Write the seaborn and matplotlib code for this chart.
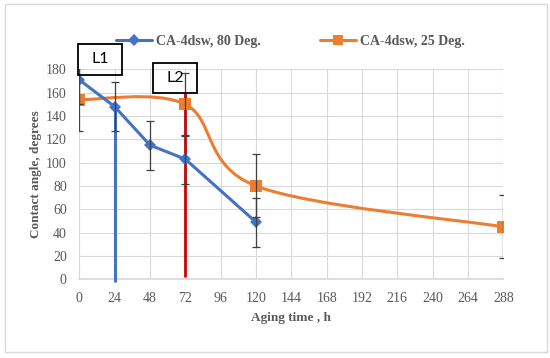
import matplotlib
matplotlib.use("Agg")
import matplotlib.pyplot as plt
import seaborn as sns
import numpy as np
import pandas as pd
from matplotlib.path import Path
from matplotlib.patches import PathPatch, Rectangle
from matplotlib.lines import Line2D

# ---- data ----
hours_80 = [0, 24, 48, 72, 120]
angle_80 = [171, 148, 115, 103, 49]
err_80 = [21, 21, 21, 21, 21]

hours_25 = [0, 72, 120, 288]
angle_25 = [154, 150, 80, 45]
err_25 = [27, 27, 27, 27]

x_ticks = [0, 24, 48, 72, 96, 120, 144, 168, 192, 216, 240, 264, 288]
y_ticks = [0, 20, 40, 60, 80, 100, 120, 140, 160, 180]

label_80 = "CA-4dsw, 80 Deg."
label_25 = "CA-4dsw, 25 Deg."
markers_vlines = {"L1": (24, -2, 148), "L2": (72, 2, 160)}

BLUE = "#4472C4"
ORANGE = "#ED7D31"
RED = "#D00000"
GREY = "#595959"

sns.set_theme(style="white")
plt.rcParams['font.family'] = ['Liberation Serif', 'DejaVu Serif']

fig = plt.figure(figsize=(5.5, 3.58), dpi=100)
ax = fig.add_axes([0.1442, 0.2198, 0.7709, 0.5866])

df80 = pd.DataFrame({"h": hours_80, "a": angle_80})
df25 = pd.DataFrame({"h": hours_25, "a": angle_25})

# blue series (straight lines)
sns.lineplot(data=df80, x="h", y="a", ax=ax, color=BLUE, lw=2.2,
             marker="D", markersize=6.5, markeredgewidth=0, zorder=4)

# orange series: smoothed curve (Catmull-Rom style Bezier like Excel)
P = np.column_stack([hours_25, angle_25]).astype(float)
verts = [tuple(P[0])]
codes = [Path.MOVETO]
n = len(P)
for i in range(n - 1):
    p0 = P[i - 1] if i > 0 else P[i]
    p1 = P[i]
    p2 = P[i + 1]
    p3 = P[i + 2] if i + 2 < n else P[i + 1]
    c1 = p1 + (p2 - p0) / 6.0
    c2 = p2 - (p3 - p1) / 6.0
    verts += [tuple(c1), tuple(c2), tuple(p2)]
    codes += [Path.CURVE4] * 3
ax.add_patch(PathPatch(Path(verts, codes), fill=False, edgecolor=ORANGE,
                       lw=2.2, zorder=3, capstyle="round"))
sns.scatterplot(data=df25, x="h", y="a", ax=ax, color=ORANGE, marker="s",
                s=75, linewidth=0, zorder=5)

# vertical marker lines
xv, y0, y1 = markers_vlines["L1"]
ax.vlines(xv, y0, y1, color=BLUE, lw=2.2, zorder=3, clip_on=False)
xv, y0, y1 = markers_vlines["L2"]
ax.vlines(xv, y0, y1, color=RED, lw=2.0, zorder=3)

# error bars
ax.errorbar(hours_80, angle_80, yerr=err_80, fmt="none", ecolor="#404040",
            elinewidth=0.9, capsize=3, capthick=0.9, zorder=6)
ax.errorbar(hours_25, angle_25, yerr=err_25, fmt="none", ecolor="#404040",
            elinewidth=0.9, capsize=3, capthick=0.9, zorder=6)

ax.set_xlim(0, 288)
ax.set_ylim(0, 180)
ax.set_xticks(x_ticks)
ax.set_yticks(y_ticks)
ax.grid(True, color="#D9D9D9", lw=0.8)
ax.set_axisbelow(True)
for s in ["top", "right", "left"]:
    ax.spines[s].set_visible(False)
ax.spines["bottom"].set_color("#D9D9D9")
ax.tick_params(axis="both", length=0, labelsize=10, labelcolor=GREY)
ax.tick_params(axis="x", pad=9)
ax.tick_params(axis="y", pad=9)
ax.set_xlabel("Aging time , h", fontsize=9.5, fontweight="bold", color=GREY, labelpad=5)
ax.set_ylabel("Contact angle, degrees", fontsize=9.5, fontweight="bold", color=GREY, labelpad=3)

handles = [Line2D([], [], color=BLUE, lw=2.2, marker="D", markersize=6, markeredgewidth=0),
           Line2D([], [], color=ORANGE, lw=2.2, marker="s", markersize=6.5, markeredgewidth=0)]
leg = fig.legend(handles, [label_80, label_25], loc="center", bbox_to_anchor=(0.528, 0.884),
                 ncol=2, frameon=False, handlelength=2.6, columnspacing=4.2,
                 prop={"family": "Liberation Serif", "weight": "bold", "size": 10},
                 handletextpad=0.3)
for t in leg.get_texts():
    t.set_color(GREY)

# L1 / L2 boxes
for (x0, y0b, w, h, cx, cy, txt) in [(0.1418, 0.7905, 0.080, 0.0866, 0.1818, 0.8338, "L1"),
                                      (0.2782, 0.7402, 0.080, 0.0838, 0.3182, 0.7821, "L2")]:
    fig.patches.append(Rectangle((x0, y0b), w, h, transform=fig.transFigure,
                                 fill=False, edgecolor="black", lw=1.3, zorder=7))
    fig.text(cx, cy, txt, ha="center", va="center", fontsize=11.5,
             family=["Lato", "DejaVu Sans"], color="black", zorder=8)

# outer chart border
fig.patches.append(Rectangle((5 / 550, 1 - 352 / 358), 542 / 550, 348 / 358,
                             transform=fig.transFigure, fill=False,
                             edgecolor="#D9D9D9", lw=1.0))

fig.savefig("out.png", dpi=100)
